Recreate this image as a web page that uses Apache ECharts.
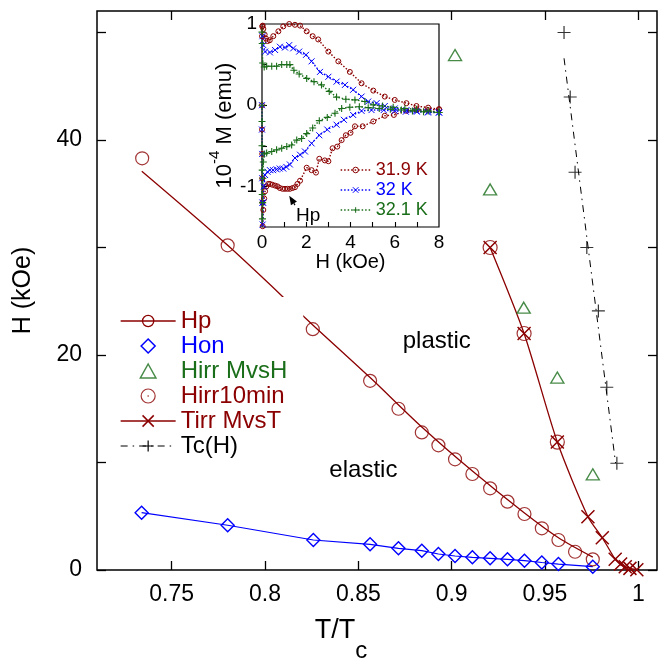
<!DOCTYPE html>
<html><head><meta charset="utf-8">
<script src="https://cdn.jsdelivr.net/npm/echarts@6/dist/echarts.min.js"></script>
<style>html,body{margin:0;padding:0;background:#fff}#c{width:668px;height:658px}</style>
</head><body><div id="c"></div>
<script>
const FONT = "'Liberation Sans', Arial, Helvetica, sans-serif";
const DRED = '#8b0000', BLUE = '#0000ff', GREEN = '#1a6e1a', BLACK = '#000000';
const NONE = 'rgba(0,0,0,0)';

// ---------- main panel data ----------
const xTicks = [0.75, 0.8, 0.85, 0.9, 0.95, 1];
const yTicks = [0, 10, 20, 30, 40, 50];
const yTickLabels = [0, 20, 40];

const hpT = [0.7342,0.780,0.8256,0.8563,0.8715,0.884,0.8929,0.9018,0.9111,0.9206,0.9299,0.939,0.9483,0.9572,0.9661,0.9756];
const hpH = [38.3,30.2,22.4,17.6,15.0,12.8,11.6,10.3,8.93,7.6,6.36,5.21,3.88,2.79,1.70,0.99];
const hpFitT = [0.734,0.780,0.8256,0.8563,0.884,0.9111,0.939,0.9572,0.9756];
const hpFitH = [37.1,30.2,22.8,17.9,13.3,9.2,5.3,3.0,1.2];

const honT = [0.7339,0.780,0.8259,0.8563,0.8715,0.884,0.8929,0.9018,0.9111,0.9206,0.9299,0.939,0.9483,0.9572,0.9756];
const honH = [5.33,4.16,2.79,2.39,2.02,1.80,1.49,1.30,1.18,1.09,0.99,0.87,0.70,0.55,0.31];

const hirrT = [0.9018,0.9206,0.9386,0.9566,0.9756];
const hirrH = [47.9,35.4,24.4,17.9,8.9];

const h10T = [0.9206,0.9388,0.9566];
const h10H = [30.0,22.0,11.9];

const tirrT = [0.9206,0.9388,0.9566,0.973,0.9807,0.9876,0.9905,0.993,0.9955,0.9992];
const tirrH = [30.0,22.0,11.9,4.96,3.0,1.0,0.55,0.3,0.15,0.03];

const tcT = [0.9602,0.9635,0.9661,0.9724,0.9786,0.9831,0.9885];
const tcH = [50.0,44.0,37.0,30.0,24.1,17.0,9.93];
const tcFitT = [0.9602,0.9878];
const tcFitH = [47.6,9.95];

// ---------- inset data ----------
const insetXTicks = [1,2,3,4,5,6,7];
const insetXLabels = [0,2,4,6,8];
const insetYTicks = [-1,-0.5,0,0.5];
const insetYLabels = [-1,0,1];

const h319Lo = [0,0,0.01,0.01,0.02,0.03,0.06,0.1,0.14,0.2,0.28,0.36,0.47,0.59,0.7,0.81,0.93,1.04,1.15,1.26,1.38,1.49,1.6,1.72,2.02,2.24,2.44,2.59,2.84,3.0,3.19,3.4,3.6,3.79,4.0,4.2,4.55,5.03,5.55,5.96,6.53,7.0,7.5,8.0];
const m319Lo = [0,-0.3,-0.6,-0.9,-1.2,-1.49,-1.29,-1.15,-1.06,-1.0,-0.97,-0.97,-0.98,-0.99,-1.0,-1.02,-1.03,-1.03,-1.03,-1.03,-1.02,-1.01,-0.97,-0.93,-0.77,-0.80,-0.83,-0.66,-0.68,-0.69,-0.53,-0.51,-0.43,-0.37,-0.34,-0.26,-0.26,-0.20,-0.13,-0.12,-0.07,-0.06,-0.06,-0.05];
const h319Up = [8.0,7.51,6.98,6.53,6.0,5.55,5.03,4.5,3.97,3.45,3.0,2.54,2.29,2.02,1.72,1.49,1.23,0.96,0.74,0.51,0.35,0.25,0.18,0.12,0.06,0.03,0.01,0];
const m319Up = [-0.05,-0.03,-0.01,0.025,0.065,0.106,0.18,0.27,0.41,0.54,0.66,0.81,0.85,0.91,0.98,0.99,1.0,0.97,0.91,0.85,0.80,0.79,0.82,0.87,0.94,0.98,0.97,0.85];

const h32Lo = [0,0,0.01,0.01,0.02,0.03,0.05,0.08,0.14,0.25,0.36,0.5,0.66,0.8,0.96,1.1,1.26,1.49,1.72,1.94,2.24,2.59,2.95,3.37,3.7,4.12,4.5,4.95,5.5,6.0,6.5,7.0,7.5,8.0];
const m32Lo = [0,-0.3,-0.6,-0.9,-1.2,-1.47,-1.2,-1.0,-0.86,-0.82,-0.80,-0.80,-0.79,-0.78,-0.78,-0.76,-0.73,-0.65,-0.61,-0.57,-0.47,-0.37,-0.30,-0.24,-0.18,-0.12,-0.07,-0.06,-0.06,-0.07,-0.08,-0.08,-0.09,-0.09];
const h32Up = [8.0,7.51,6.98,6.53,6.0,5.55,5.18,4.8,4.5,4.12,3.75,3.37,3.0,2.62,2.24,1.99,1.68,1.41,1.23,1.04,0.81,0.59,0.36,0.14,0.06,0.02];
const m32Up = [-0.09,-0.08,-0.07,-0.06,-0.04,-0.01,0.025,0.045,0.106,0.19,0.25,0.29,0.35,0.41,0.54,0.62,0.66,0.70,0.74,0.71,0.72,0.68,0.65,0.66,0.74,0.85];

const h321Lo = [0,0,0,0.01,0.01,0.02,0.03,0.04,0.06,0.1,0.21,0.44,0.66,0.89,1.12,1.34,1.57,1.79,2.02,2.29,2.59,2.95,3.3,3.6,3.97,4.4,4.8,5.3,5.8,6.3,6.8,7.3,8.0];
const m321Lo = [0,-0.2,-0.5,-0.8,-1.1,-1.4,-1.2,-0.9,-0.7,-0.6,-0.59,-0.57,-0.55,-0.53,-0.51,-0.49,-0.43,-0.41,-0.35,-0.28,-0.19,-0.15,-0.10,-0.04,-0.025,-0.02,-0.03,-0.04,-0.05,-0.06,-0.07,-0.08,-0.09];
const h321Up = [8.0,7.51,6.98,6.46,5.93,5.45,5.03,4.65,4.2,3.79,3.37,3.04,2.69,2.35,2.02,1.68,1.44,1.26,1.12,0.89,0.66,0.44,0.21,0.1,0.03,0.01,0];
const m321Up = [-0.09,-0.07,-0.05,-0.04,-0.025,-0.01,0.004,0.045,0.065,0.074,0.10,0.17,0.25,0.29,0.33,0.385,0.43,0.50,0.50,0.50,0.48,0.48,0.48,0.47,0.52,0.76,0.9];

// annotation anchors (data coordinates)
const plasticPos = [0.892, 21.3];
const elasticPos = [0.8527, 9.3];
const hpLabelPos = [2.09, -1.36];
const hpArrowTip = [1.23, -1.115];
const hpArrowTail = [1.49, -1.23];

// ---------- helpers ----------
const zip = (a, b) => a.map((v, i) => [v, b[i]]);
const X_PATH = 'path://M0,0L10,10M10,0L0,10';
const PLUS_PATH = 'path://M5,0L5,10M0,5L10,5';
const DIAMOND_PATH = 'path://M5,0L10,5L5,10L0,5Z';
const TRI_PATH = 'path://M5,0L10,9L0,9Z';
const CIRC_DOT_PATH = 'path://M10,5A5,5,0,1,1,0,5A5,5,0,1,1,10,5ZM5,4.4L5,5.6';
const fmt = v => String(+(+v).toFixed(2));

const chart = echarts.init(document.getElementById('c'), null, {renderer: 'canvas'});

const mainTick = {inside: true, length: 9, lineStyle: {color: BLACK, width: 1.3}};
const insetTick = {inside: true, length: 5, lineStyle: {color: BLACK, width: 1.1}};

const option = {
  animation: false,
  backgroundColor: '#fff',
  textStyle: {fontFamily: FONT},
  grid: [
    {left: 97, top: 11, right: 11, bottom: 88, show: true, borderColor: BLACK, borderWidth: 1.5, backgroundColor: NONE, containLabel: false, outerBoundsMode: 'none'},
    {left: 262, top: 24, right: 229, bottom: 431, show: true, borderColor: BLACK, borderWidth: 1.2, backgroundColor: '#fff', containLabel: false, outerBoundsMode: 'none'}
  ],
  xAxis: [
    {type: 'value', gridIndex: 0, position: 'bottom', min: 0.71, max: 1.01,
     axisLine: {show: false, onZero: false}, splitLine: {show: false},
     axisTick: Object.assign({customValues: xTicks}, mainTick),
     axisLabel: {customValues: xTicks, margin: 13, fontSize: 23, color: BLACK, fontFamily: FONT, formatter: fmt},
     name: '{n|T/T}{sub|c}', nameLocation: 'middle', nameGap: 47,
     nameTextStyle: {padding: [0, 72, 0, 0],
       rich: {n: {fontSize: 27, fontFamily: FONT, color: BLACK, verticalAlign: 'top'},
              sub: {fontSize: 24, fontFamily: FONT, color: BLACK, verticalAlign: 'top', padding: [22, 0, 0, 0]}}}
    },
    {type: 'value', gridIndex: 0, position: 'top', min: 0.71, max: 1.01,
     axisLine: {show: false, onZero: false}, splitLine: {show: false},
     axisTick: Object.assign({customValues: xTicks}, mainTick),
     axisLabel: {show: false}},
    {type: 'value', gridIndex: 1, position: 'bottom', min: 0, max: 8,
     axisLine: {show: false, onZero: false}, splitLine: {show: false},
     axisTick: Object.assign({customValues: insetXTicks}, insetTick),
     axisLabel: {customValues: insetXLabels, margin: 6, fontSize: 19, color: BLACK, fontFamily: FONT, formatter: fmt},
     name: 'H (kOe)', nameLocation: 'middle', nameGap: 22,
     nameTextStyle: {fontSize: 20, color: BLACK, fontFamily: FONT}}
  ],
  yAxis: [
    {type: 'value', gridIndex: 0, position: 'left', min: 0, max: 52,
     axisLine: {show: false, onZero: false}, splitLine: {show: false},
     axisTick: Object.assign({customValues: yTicks}, mainTick),
     axisLabel: {customValues: yTickLabels, margin: 15, fontSize: 23, color: BLACK, fontFamily: FONT, formatter: fmt},
     name: 'H (kOe)', nameLocation: 'middle', nameGap: 61,
     nameTextStyle: {fontSize: 25, color: BLACK, fontFamily: FONT}},
    {type: 'value', gridIndex: 0, position: 'right', min: 0, max: 52,
     axisLine: {show: false, onZero: false}, splitLine: {show: false},
     axisTick: Object.assign({customValues: yTicks}, mainTick),
     axisLabel: {show: false}},
    {type: 'value', gridIndex: 1, position: 'left', min: -1.5, max: 1,
     axisLine: {show: false, onZero: false}, splitLine: {show: false},
     axisTick: Object.assign({customValues: insetYTicks}, insetTick),
     axisLabel: {customValues: insetYLabels, margin: 5, fontSize: 19, color: BLACK, fontFamily: FONT, formatter: fmt},
     name: '{n|10}{sup|-4}{n| M (emu)}', nameLocation: 'middle', nameGap: 26,
     nameTextStyle: {rich: {
       n: {fontSize: 22, fontFamily: FONT, color: BLACK, verticalAlign: 'top', padding: [7, 0, 0, 0]},
       sup: {fontSize: 15, fontFamily: FONT, color: BLACK, verticalAlign: 'top'}}}}
  ],
  legend: [
    {orient: 'vertical', left: 112, top: 297, itemWidth: 55, itemHeight: 14, itemGap: 1,
     padding: [12, 16, 6, 8], backgroundColor: '#fff', selectedMode: false,
     textStyle: {fontSize: 24, fontFamily: FONT},
     data: [
       {name: 'Hp', itemStyle: {color: NONE, borderColor: DRED, borderWidth: 1.3}, lineStyle: {color: DRED, width: 1.3}, textStyle: {color: DRED}},
       {name: 'Hon', icon: DIAMOND_PATH, itemStyle: {color: NONE, borderColor: BLUE, borderWidth: 1.5}, textStyle: {color: BLUE}},
       {name: 'Hirr MvsH', icon: TRI_PATH, itemStyle: {color: NONE, borderColor: GREEN, borderWidth: 1.5}, textStyle: {color: GREEN}},
       {name: 'Hirr10min', icon: CIRC_DOT_PATH, itemStyle: {color: NONE, borderColor: DRED, borderWidth: 1.2}, textStyle: {color: DRED}},
       {name: 'Tirr MvsT', itemStyle: {color: NONE, borderColor: DRED, borderWidth: 1.5}, lineStyle: {color: DRED, width: 1.3}, textStyle: {color: DRED}},
       {name: 'Tc(H)', itemStyle: {color: NONE, borderColor: BLACK, borderWidth: 1.2}, lineStyle: {color: BLACK, width: 1, type: [7, 5, 1.5, 5]}, textStyle: {color: BLACK}}
     ]},
    {orient: 'vertical', left: 340, top: 161, itemWidth: 30, itemHeight: 7, itemGap: 2,
     padding: 0, selectedMode: false,
     textStyle: {fontSize: 18, fontFamily: FONT},
     data: [
       {name: '31.9 K', itemStyle: {color: NONE, borderColor: DRED, borderWidth: 1}, lineStyle: {color: DRED, width: 1.3, type: [1.5, 2]}, textStyle: {color: DRED}},
       {name: '32 K', itemStyle: {color: NONE, borderColor: BLUE, borderWidth: 1}, lineStyle: {color: BLUE, width: 1.3, type: [1.5, 2]}, textStyle: {color: BLUE}},
       {name: '32.1 K', itemStyle: {color: NONE, borderColor: GREEN, borderWidth: 1}, lineStyle: {color: GREEN, width: 1.3, type: [1.5, 2]}, textStyle: {color: GREEN}}
     ]}
  ],
  series: [
    {name: 'Hp', type: 'line', xAxisIndex: 0, yAxisIndex: 0, data: zip(hpFitT, hpFitH), smooth: 0.3,
     showSymbol: false, symbol: 'circle', symbolSize: 13, color: DRED,
     itemStyle: {color: NONE, borderColor: DRED, borderWidth: 1.2}, lineStyle: {color: DRED, width: 1.3}, z: 3},
    {name: 'Hp points', type: 'scatter', xAxisIndex: 0, yAxisIndex: 0, data: zip(hpT, hpH),
     symbol: 'circle', symbolSize: 13, itemStyle: {color: NONE, borderColor: DRED, borderWidth: 1.2}, z: 4},
    {name: 'Hon', type: 'line', xAxisIndex: 0, yAxisIndex: 0, data: zip(honT, honH), color: BLUE,
     symbol: 'diamond', symbolSize: 13, showSymbol: true,
     itemStyle: {color: NONE, borderColor: BLUE, borderWidth: 1.4}, lineStyle: {color: BLUE, width: 1.2}, z: 4},
    {name: 'Hirr MvsH', type: 'scatter', xAxisIndex: 0, yAxisIndex: 0, data: zip(hirrT, hirrH), color: GREEN,
     symbol: TRI_PATH, symbolSize: [13, 11], itemStyle: {color: NONE, borderColor: GREEN, borderWidth: 1.4}, z: 4},
    {name: 'Hirr10min', type: 'scatter', xAxisIndex: 0, yAxisIndex: 0, data: zip(h10T, h10H), color: DRED,
     symbol: 'circle', symbolSize: 14, itemStyle: {color: NONE, borderColor: DRED, borderWidth: 1.2}, z: 4},
    {name: 'Tirr MvsT', type: 'line', xAxisIndex: 0, yAxisIndex: 0, data: zip(tirrT, tirrH), color: DRED, smooth: 0.25,
     symbol: X_PATH, symbolSize: 13, showSymbol: true,
     itemStyle: {color: NONE, borderColor: DRED, borderWidth: 1.5}, lineStyle: {color: DRED, width: 1.3}, z: 4},
    {name: 'Tc(H)', type: 'line', xAxisIndex: 0, yAxisIndex: 0, data: zip(tcFitT, tcFitH), color: BLACK,
     showSymbol: false, symbol: PLUS_PATH, symbolSize: 13,
     itemStyle: {color: NONE, borderColor: BLACK, borderWidth: 1.2}, lineStyle: {color: BLACK, width: 1, type: [7, 5, 1.5, 5]}, z: 3},
    {name: 'Tc points', type: 'scatter', xAxisIndex: 0, yAxisIndex: 0, data: zip(tcT, tcH),
     symbol: PLUS_PATH, symbolSize: 13, itemStyle: {color: NONE, borderColor: BLACK, borderWidth: 1.2}, z: 4},
    // inset
    {name: '31.9 K', type: 'line', xAxisIndex: 2, yAxisIndex: 2, color: DRED,
     data: zip(h319Lo, m319Lo).concat(zip(h319Up, m319Up)), showSymbol: true, symbol: 'circle', symbolSize: 5,
     itemStyle: {color: NONE, borderColor: DRED, borderWidth: 1}, lineStyle: {color: DRED, width: 1.4, type: [1.5, 1.8]}, z: 5},
    {name: '32 K', type: 'line', xAxisIndex: 2, yAxisIndex: 2, color: BLUE,
     data: zip(h32Lo, m32Lo).concat(zip(h32Up, m32Up)), showSymbol: true, symbol: X_PATH, symbolSize: 6,
     itemStyle: {color: NONE, borderColor: BLUE, borderWidth: 1}, lineStyle: {color: BLUE, width: 1.4, type: [1.5, 1.8]}, z: 5},
    {name: '32.1 K', type: 'line', xAxisIndex: 2, yAxisIndex: 2, color: GREEN,
     data: zip(h321Lo, m321Lo).concat(zip(h321Up, m321Up)), showSymbol: true, symbol: PLUS_PATH, symbolSize: 7,
     itemStyle: {color: NONE, borderColor: GREEN, borderWidth: 1.1}, lineStyle: {color: GREEN, width: 1.4, type: [1.5, 1.8]}, z: 5}
  ]
};
chart.setOption(option);

// text annotations positioned from data coordinates
const toPx = (gi, p) => chart.convertToPixel({gridIndex: gi}, p);
const pPl = toPx(0, plasticPos), pEl = toPx(0, elasticPos);
const pHp = toPx(1, hpLabelPos), tip = toPx(1, hpArrowTip), tail = toPx(1, hpArrowTail);
const dx = tip[0] - tail[0], dy = tip[1] - tail[1], len = Math.hypot(dx, dy) || 1;
const ux = dx / len, uy = dy / len, nx = -uy, ny = ux;
const hl = 9, hw = 3.5;
const bx = tip[0] - hl * ux, by = tip[1] - hl * uy;
chart.setOption({
  graphic: [
    {type: 'text', x: pPl[0], y: pPl[1], z: 10, style: {text: 'plastic', font: '24px ' + FONT, fill: BLACK, align: 'center', verticalAlign: 'middle'}},
    {type: 'text', x: pEl[0], y: pEl[1], z: 10, style: {text: 'elastic', font: '24px ' + FONT, fill: BLACK, align: 'center', verticalAlign: 'middle'}},
    {type: 'text', x: pHp[0], y: pHp[1], z: 10, style: {text: 'Hp', font: '19px ' + FONT, fill: BLACK, align: 'center', verticalAlign: 'middle'}},
    {type: 'line', z: 10, shape: {x1: tail[0], y1: tail[1], x2: bx, y2: by}, style: {stroke: BLACK, lineWidth: 1.2}},
    {type: 'polygon', z: 10, shape: {points: [[tip[0], tip[1]], [bx + hw * nx, by + hw * ny], [bx - hw * nx, by - hw * ny]]}, style: {fill: BLACK}}
  ]
});
</script>
</body></html>
